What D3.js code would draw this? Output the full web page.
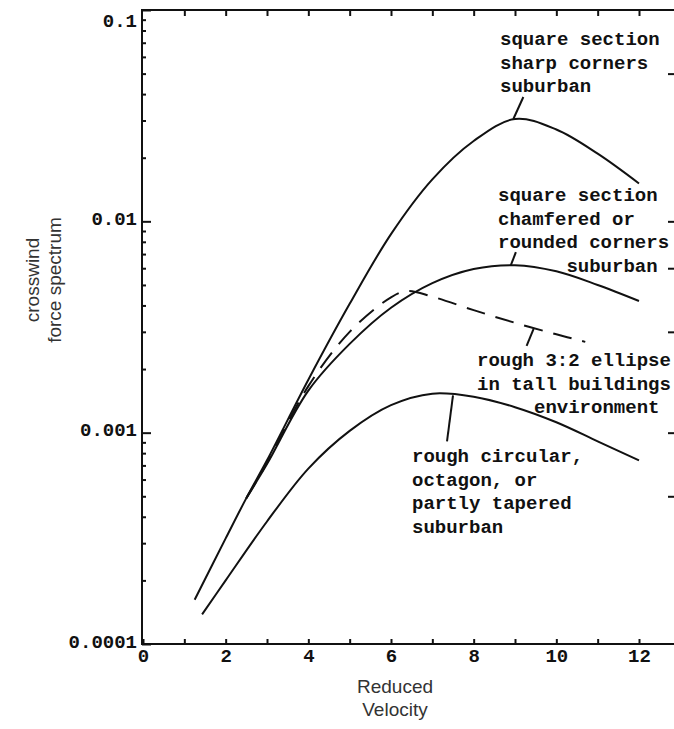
<!DOCTYPE html>
<html>
<head>
<meta charset="utf-8">
<script src="https://cdn.jsdelivr.net/npm/d3@7"></script>
<style>
  body { margin: 0; background: #fff; }
  svg { display: block; }
  .tick line { stroke: #111; stroke-width: 2; }
  .tick text { font-family: "Liberation Mono", "Courier New", monospace; font-weight: bold; font-size: 19px; fill: #111; }
  .note { font-family: "Liberation Mono", "Courier New", monospace; font-weight: bold; font-size: 19px; fill: #111; white-space: pre; }
  .title { font-family: "Liberation Sans", Arial, sans-serif; font-size: 19px; fill: #333; }
  .curve { fill: none; stroke: #111; stroke-width: 2; }
</style>
</head>
<body>
<div id="chart"></div>
<script>
  // axis ticks
  const xTicks = d3.range(0, 13);
  const xLabels = [0, 2, 4, 6, 8, 10, 12];
  const yLabels = [0.1, 0.01, 0.001, 0.0001];

  // square section, sharp corners, suburban
  const sharpV = [1.25, 2, 2.5, 3, 4, 5, 6, 7, 8, 9, 10, 11, 12];
  const sharpS = [1.62e-4, 3.16e-4, 4.9e-4, 7.4e-4, 1.78e-3, 4.07e-3, 8.7e-3, 0.0158, 0.024, 0.0305, 0.0272, 0.0209, 0.0151];

  // square section, chamfered or rounded corners, suburban
  const chamferV = [2.5, 3, 4, 5, 6, 7, 8, 9, 10, 11, 12];
  const chamferS = [4.9e-4, 7.1e-4, 1.58e-3, 2.63e-3, 3.9e-3, 5.1e-3, 5.95e-3, 6.2e-3, 5.8e-3, 5.0e-3, 4.2e-3];

  // rough 3:2 ellipse in tall buildings environment (dashed)
  const ellipseV = [2.5, 3, 4, 5, 6, 6.4, 7, 8, 9, 10, 10.7];
  const ellipseS = [4.9e-4, 7.2e-4, 1.66e-3, 3.0e-3, 4.37e-3, 4.68e-3, 4.4e-3, 3.8e-3, 3.31e-3, 2.92e-3, 2.69e-3];

  // rough circular, octagon, or partly tapered, suburban
  const circV = [1.43, 2, 3, 4, 5, 6, 7, 8, 9, 10, 11, 12];
  const circS = [1.38e-4, 2.0e-4, 3.8e-4, 6.76e-4, 1.02e-3, 1.35e-3, 1.53e-3, 1.48e-3, 1.32e-3, 1.12e-3, 9.1e-4, 7.4e-4];

  const width = 674, height = 729;
  const plotLeft = 142, plotTop = 10, plotBottom = 644;

  const svg = d3.select("#chart").append("svg")
    .attr("width", width)
    .attr("height", height);

  const x = d3.scaleLinear().domain([0, 12]).range([143, 639]);
  const y = d3.scaleLog().domain([1e-4, 0.1]).range([plotBottom, plotTop]);

  // minor log ticks 2..9 per decade
  const yMinor = yLabels.slice(1).flatMap(d => d3.range(2, 10).map(k => k * d));

  // frame lines
  svg.append("path")
    .attr("d", `M${width},${plotTop}H${plotLeft}V${plotBottom}H${width}`)
    .attr("fill", "none")
    .attr("stroke", "#111")
    .attr("stroke-width", 2);

  // bottom axis
  svg.append("g")
    .attr("transform", `translate(0,${plotBottom})`)
    .call(d3.axisBottom(x).tickValues(xTicks).tickSize(-5).tickPadding(5)
      .tickFormat(d => xLabels.includes(d) ? d : ""))
    .call(g => g.select(".domain").remove());

  // top axis, ticks only
  svg.append("g")
    .attr("transform", `translate(0,${plotTop})`)
    .call(d3.axisTop(x).tickValues(xTicks.slice(1)).tickSize(-6).tickFormat(""))
    .call(g => g.select(".domain").remove());

  // left axis
  svg.append("g")
    .attr("transform", `translate(${plotLeft},0)`)
    .call(d3.axisLeft(y).tickValues(yLabels).tickSize(-9).tickPadding(5)
      .tickFormat(d => String(d)))
    .call(g => g.select(".domain").remove())
    .call(g => g.selectAll(".tick text").attr("y", d => d === 0.1 ? 10 : -3));

  svg.append("g")
    .attr("transform", `translate(${plotLeft},0)`)
    .call(d3.axisLeft(y).tickValues(yMinor).tickSize(-4).tickFormat(""))
    .call(g => g.select(".domain").remove());

  // right edge ticks (partially visible)
  svg.append("g")
    .attr("transform", `translate(${width},0)`)
    .call(d3.axisLeft(y).tickValues([0.05, 0.01, 0.006, 0.003, 0.001, 0.0005]).tickSize(6).tickFormat(""))
    .call(g => g.select(".domain").remove());

  const line = d3.line()
    .x(d => x(d[0]))
    .y(d => y(d[1]))
    .curve(d3.curveCatmullRom.alpha(0.5));

  const series = [
    { v: sharpV, s: sharpS, dash: null },
    { v: chamferV, s: chamferS, dash: null },
    { v: ellipseV, s: ellipseS, dash: "19,11" },
    { v: circV, s: circS, dash: null }
  ];

  svg.selectAll(".curve")
    .data(series)
    .enter()
    .append("path")
    .attr("class", "curve")
    .attr("stroke-dasharray", d => d.dash)
    .attr("d", d => line(d3.zip(d.v, d.s)));

  // pointer lines from curves to labels
  const pointers = [
    { v: 8.96, s: 0.0305, dx: 10, dy: -22 },
    { v: 8.9, s: 6.2e-3, dx: 5, dy: -13 },
    { v: 9.45, s: 3.1e-3, dx: -7, dy: 17 },
    { v: 7.5, s: 1.5e-3, dx: -6, dy: 46 }
  ];
  svg.selectAll(".pointer")
    .data(pointers)
    .enter()
    .append("line")
    .attr("class", "pointer")
    .attr("x1", d => x(d.v))
    .attr("y1", d => y(d.s))
    .attr("x2", d => x(d.v) + d.dx)
    .attr("y2", d => y(d.s) + d.dy)
    .attr("stroke", "#111")
    .attr("stroke-width", 2);

  // curve labels
  const notes = [
    { x: 500, y: 45, lines: ["square section", "sharp corners", "suburban"] },
    { x: 498, y: 201, lines: ["square section", "chamfered or", "rounded corners", "      suburban"] },
    { x: 477, y: 366, lines: ["rough 3:2 ellipse", "in tall buildings", "     environment"] },
    { x: 412, y: 462, lines: ["rough circular,", "octagon, or", "partly tapered", "suburban"] }
  ];
  notes.forEach(n => {
    svg.append("g").selectAll("text")
      .data(n.lines)
      .enter()
      .append("text")
      .attr("class", "note")
      .attr("x", n.x)
      .attr("y", (d, i) => n.y + i * 23.5)
      .text(d => d);
  });

  // axis titles
  svg.append("text")
    .attr("class", "title")
    .attr("text-anchor", "middle")
    .selectAll("tspan")
    .data(["Reduced", "Velocity"])
    .enter()
    .append("tspan")
    .attr("x", 395)
    .attr("y", (d, i) => 693 + i * 23)
    .text(d => d);

  svg.append("g")
    .attr("transform", "translate(0,280) rotate(-90)")
    .selectAll("text")
    .data(["crosswind", "force spectrum"])
    .enter()
    .append("text")
    .attr("class", "title")
    .attr("text-anchor", "middle")
    .attr("x", 0)
    .attr("y", (d, i) => 39 + i * 22)
    .text(d => d);
</script>
</body>
</html>
